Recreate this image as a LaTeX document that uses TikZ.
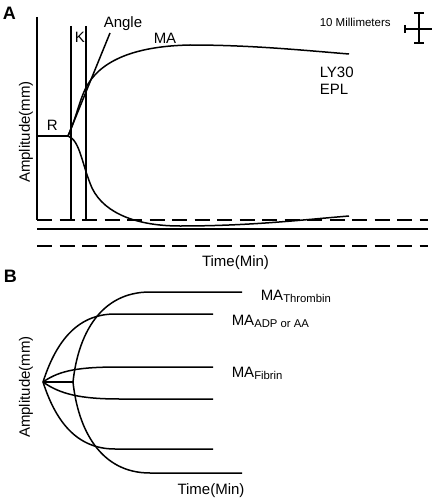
\documentclass[tikz,border=0pt]{standalone}
\usepackage{fontspec}
\setmainfont{Liberation Sans}
\begin{document}
\begin{tikzpicture}[x=1pt,y=-1pt,line width=1.5pt,line join=round,
  lbl/.style={font=\fontsize{15}{18}\selectfont,inner sep=0pt},
  smalllbl/.style={font=\fontsize{11.5}{14}\selectfont,inner sep=0pt},
  panel/.style={font=\fontsize{18}{20}\selectfont\bfseries,inner sep=0pt},
  dashline/.style={dash pattern=on 15pt off 7.5pt},
  thin/.style={line width=1.2pt}]
\useasboundingbox (0,0) rectangle (432,500);
\newcommand{\sbs}[1]{\raisebox{-0.35ex}{\fontsize{11.3}{13}\selectfont #1}}
% ---------- Panel A ----------
\node[panel,anchor=base west] (pA) at (2,20) {A};
\coordinate (j) at (68,136);
\draw (37,17) -- (37,220);
\draw (71,26) -- (71,220);
\draw (86,26) -- (86,220);
\draw (37,136) -- (j);
\draw (j) -- (110,33);
\draw (j) .. controls (77,116) and (80,97) .. (88,84)
      .. controls (104,58) and (140,46) .. (190,45)
      .. controls (250,45) and (300,50) .. (349,54);
\draw (j) .. controls (80,140) and (82,165) .. (92,188)
      .. controls (105,215) and (140,226) .. (180,226)
      .. controls (250,226) and (300,220) .. (349,216);
\draw[dashline] (37,220) -- (428,220);
\draw (37,229) -- (428,229);
\draw[dashline] (37,246) -- (428,246);
\node[lbl,anchor=base west] (ang) at (103,28) {Angle};
\node[lbl,anchor=base west] (kl) at (74,43) {K};
\node[lbl,anchor=base west] (mal) at (153,44) {MA};
\node[lbl,anchor=base west] (rl) at (46,130) {R};
\node[lbl,anchor=base west] (ly) at (319,78) {LY30};
\node[lbl,anchor=base west] (epl) at (319,95) {EPL};
\node[smalllbl,anchor=base west] (mm) at (319,27) {10 Millimeters};
\node[lbl,anchor=base] (tA) at (235.5,266) {Time(Min)};
\node[lbl,rotate=90] (yA) at (26,132) {Amplitude(mm)};
% scale cross
\draw[thin] (419,13) -- (419,43);
\draw[thin] (414,13) -- (424,13);
\draw[thin] (414,43) -- (424,43);
\draw[thin] (405,29) -- (432,29);
\draw[thin] (405,25) -- (405,33);
% ---------- Panel B ----------
\node[panel,anchor=base west] (pB) at (3,282) {B};
\coordinate (o) at (43,382);
\coordinate (kp) at (73,382);
\draw (o) -- (kp);
\draw (kp) .. controls (78,335) and (100,292) .. (150,292) -- (242,292);
\draw (o) .. controls (55,345) and (75,314) .. (115,314) -- (213,314);
\draw (o) .. controls (60,370) and (80,367) .. (120,367) -- (213,367);
\draw (o) .. controls (60,394) and (80,399) .. (120,399) -- (213,399);
\draw (o) .. controls (55,419) and (75,449) .. (115,449) -- (213,449);
\draw (kp) .. controls (78,429) and (100,473) .. (150,473) -- (242,473);
\node[lbl,anchor=base west] (mat) at (260,300) {MA\sbs{Thrombin}};
\node[lbl,anchor=base west] (maa) at (231,325) {MA\sbs{ADP or AA}};
\node[lbl,anchor=base west] (maf) at (231,377) {MA\sbs{Fibrin}};
\node[lbl,anchor=base] (tB) at (211,494) {Time(Min)};
\node[lbl,rotate=90] (yB) at (26,387) {Amplitude(mm)};
\end{tikzpicture}
\end{document}
